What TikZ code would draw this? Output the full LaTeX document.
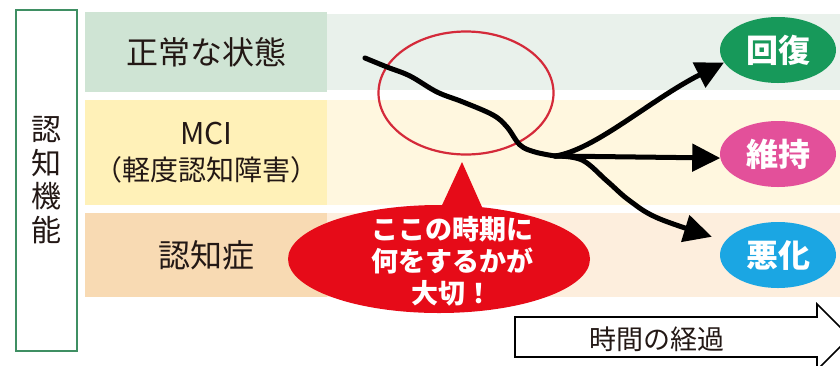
\documentclass[tikz,border=0pt]{standalone}
\usepackage{fontspec}
\setmainfont{Noto Sans CJK JP}
\usetikzlibrary{shapes.geometric,arrows.meta}
\definecolor{txt}{HTML}{231815}
\definecolor{axisgreen}{HTML}{3F8F63}
\definecolor{bandAl}{HTML}{CFE4D4}
\definecolor{bandAr}{HTML}{E9F1EB}
\definecolor{bandBl}{HTML}{FFF1B8}
\definecolor{bandBr}{HTML}{FFF7DF}
\definecolor{bandCl}{HTML}{F8DAB3}
\definecolor{bandCr}{HTML}{FDEEDD}
\definecolor{bubblered}{HTML}{E60B18}
\definecolor{ringred}{HTML}{D42A3A}
\definecolor{okgreen}{HTML}{17995A}
\definecolor{keeppink}{HTML}{E3509A}
\definecolor{badblue}{HTML}{1BA6E3}
\begin{document}
\begin{tikzpicture}[x=1pt,y=-1pt,
  band/.style={rectangle, inner sep=0pt, anchor=north west},
  bandlabel/.style={band, text=txt, align=center, font=\fontsize{32}{36}\selectfont},
  outcome/.style={ellipse, minimum width=116pt, minimum height=66pt, inner sep=0pt,
    text=white, font=\bfseries\fontsize{32}{36}\selectfont},
  flow/.style={line width=5pt, line cap=round, line join=round,
    -{Triangle[length=28pt,width=27pt]}},
  trend/.style={line width=5pt, line cap=round, line join=round}]
\useasboundingbox (0,0) rectangle (840,365);
\clip (0,0) rectangle (840,365);
\fill[white] (0,0) rectangle (840,365);
% right extensions of the bands
\fill[bandAr] (327,14) rectangle (840,90);
\fill[bandBr] (327,100) rectangle (840,205);
\fill[bandCr] (327,213) rectangle (840,297);
% band labels
\node[bandlabel, fill=bandAl, minimum width=242pt, minimum height=80pt] (normal) at (85,12) {正常な状態};
\node[bandlabel, fill=bandBl, minimum width=242pt, minimum height=105pt] (mci) at (85,100)
  {\raisebox{-5pt}{\fontsize{30}{36}\selectfont MCI}\\\raisebox{-5pt}{\fontsize{28}{36}\selectfont （軽度認知障害）}};
\node[bandlabel, fill=bandCl, minimum width=242pt, minimum height=84pt] (dementia) at (85,213) {認知症};
% vertical axis box
\draw[axisgreen, line width=2pt, fill=white] (16,10) rectangle (77,351);
\node[text=txt, align=center, font=\fontsize{30}{33.5}\selectfont] (axis) at (46,180) {認\\知\\機\\能};
% speech bubble
\node[ellipse, fill=bubblered, minimum width=302pt, minimum height=108pt, inner sep=0pt] (bubble) at (439,259) {};
\fill[bubblered] (437,216) -- (462,162) -- (486,216) -- cycle;
\node[text=white, align=center, font=\bfseries\fontsize{27}{32}\selectfont] (msg) at (452,261)
  {ここの時期に\\何をするかが\\大切！};
% focus ring
\node[ellipse, draw=ringred, line width=2.2pt, minimum width=175pt, minimum height=123pt, inner sep=0pt] (focus) at (466,93) {};
% outcomes
\node[outcome, fill=okgreen] (kaifuku) at (778,50) {回復};
\node[outcome, fill=keeppink] (iji) at (778,154) {維持};
\node[outcome, fill=badblue] (akka) at (778,255) {悪化};
% trend curve
\coordinate (split) at (555,156);
\draw[trend] plot[smooth, tension=0.6] coordinates {(365,58) (387,67) (410,76) (437,92) (463,102) (493,115) (507,127) (520,145) (535,152) (split)};
\draw[flow] (split) .. controls (595,150) and (650,100) .. (kaifuku.193);
\draw[flow] (split) -- (iji.184);
\draw[flow, shorten >=14pt] plot[smooth, tension=0.6] coordinates {(split) (582,160) (607,181) (630,201) (660,219) (akka.165)};
% time arrow
\draw[line width=1.6pt, fill=white, line join=miter] (515,317) -- (817,317) -- (817,304) -- (850,337) -- (817,370) -- (817,357) -- (515,357) -- cycle;
\node[text=txt, font=\fontsize{27}{32}\selectfont] (time) at (657,339) {時間の経過};
\end{tikzpicture}
\end{document}
